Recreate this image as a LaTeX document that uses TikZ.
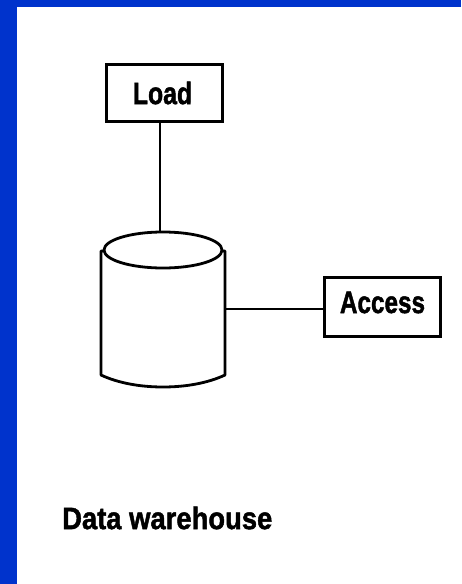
\documentclass[tikz,border=0pt]{standalone}
\usepackage{fontspec}
\setmainfont[BoldFeatures={FakeBold=1.6}]{Liberation Sans}
\usepackage{tikz}
\usetikzlibrary{positioning,shapes.geometric}
\definecolor{frameblue}{HTML}{0033CC}
\tikzstyle{box} = [draw,line width=2.8pt,fill=white,inner sep=0pt]
\tikzstyle{boxtext} = [font=\fontsize{31}{31}\bfseries\selectfont,inner sep=0pt,xscale=0.8]
\tikzstyle{edge} = [draw,line width=2.8pt]
\tikzstyle{db} = [draw,line width=2.8pt,fill=white,line join=round]

\begin{document}
\begin{tikzpicture}[x=1pt,y=-1pt]
	\useasboundingbox (0,0) rectangle (461,584);
	% First we draw the frame
	\fill[frameblue] (0,0) rectangle (461,584);
	\fill[white] (17,7) rectangle (461,584);

	% The boxes and their labels
	\foreach \pos/\name/\high/\wide in {{(164.5,93)/load/57/116}, {(382.5,307)/access/59/116}}
	\node[box,minimum height=\high pt,minimum width=\wide pt] (\name) at \pos {};
	\node[boxtext] (loadtext) at ([xshift=-2pt]load.center) {Load};
	\node[boxtext,xscale=0.98] (accesstext) at ([yshift=4.5pt]access.center) {Access};

	% The cylinder, sides first and then the top
	\path[db] (101,251) -- (101,375) .. controls (118,383) and (140,387) .. (163,387)
		.. controls (186,387) and (208,383) .. (225,375) -- (225,251) -- cycle;
	\node[db,ellipse,minimum width=118pt,minimum height=36pt,inner sep=0pt] (dbtop) at (163,250) {};
	\coordinate (dbport) at (226,309);
	\coordinate (dbin) at (160,232);

	% Connect boxes with the cylinder
	\path[edge] (load.south -| dbin) -- (dbin);
	\path[edge] (access.west |- dbport) -- (dbport);

	\node[boxtext,xscale=1.105,anchor=west] (caption) at (62,518) {Data warehouse};
\end{tikzpicture}
\end{document}
